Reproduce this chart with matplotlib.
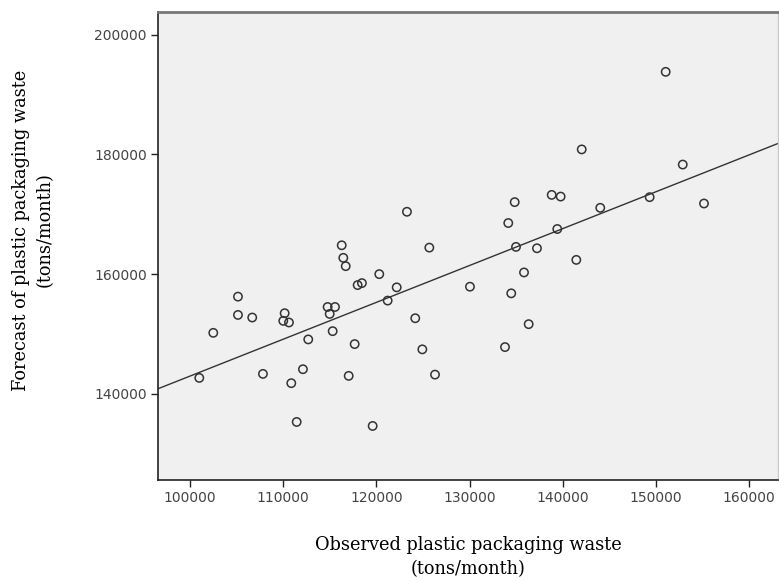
import numpy as np
import matplotlib
matplotlib.use("Agg")
import matplotlib.pyplot as plt

# Observed (x) and forecast (y) plastic packaging waste, tons/month
observed = [101000, 102500, 105150, 105150, 106680, 107830, 110160, 110010, 110620, 110870,
            111450, 112120, 112690, 114770, 115560, 114990, 115310, 116280, 116450, 116710,
            117030, 117670, 117990, 118450, 119600, 120310, 121210, 122180, 123280, 124170,
            124930, 125680, 126290, 130040, 133800, 134150, 134470, 134840, 134980, 135840,
            136340, 137230, 138810, 139770, 139410, 141450, 142030, 144020, 149320, 151040,
            152870, 155150]
forecast = [142660, 150190, 156240, 153180, 152750, 143330, 153470, 152190, 151920, 141780,
            135300, 144110, 149090, 154510, 154510, 153350, 150470, 164820, 162720, 161330,
            143000, 148310, 158170, 158500, 134630, 160000, 155580, 157790, 170420, 152630,
            147430, 164430, 143210, 157900, 147810, 168540, 156790, 172030, 164550, 160280,
            151640, 164320, 173240, 172960, 167540, 162380, 180840, 171080, 172860, 193800,
            178310, 171800]

x_ticks = [100000, 110000, 120000, 130000, 140000, 150000, 160000]
y_ticks = [140000, 160000, 180000, 200000]
x_label = "Observed plastic packaging waste\n(tons/month)"
y_label = "Forecast of plastic packaging waste\n(tons/month)"

W, H = 779, 581
fig = plt.figure(figsize=(W / 100, H / 100), dpi=100)
ax = fig.add_axes([158 / W, (H - 480) / H, (778 - 158) / W, (480 - 12) / H])
ax.set_facecolor("#f0f0f0")

ax.scatter(observed, forecast, s=36, facecolors="none", edgecolors="#333333",
           linewidths=1.1, zorder=3)

slope, intercept = np.polyfit(observed, forecast, 1)
ax.axline((0, intercept), slope=slope, color="#333333", linewidth=1.0, zorder=2)

ax.set_xlim(96570, 163090)
ax.set_ylim(125600, 203800)
ax.set_xticks(x_ticks)
ax.set_yticks(y_ticks)
ax.set_xticklabels([str(v) for v in x_ticks])
ax.set_yticklabels([str(v) for v in y_ticks])
ax.tick_params(axis="both", direction="out", length=5, width=1, color="#222222",
               labelsize=10, labelcolor="#444444", pad=3)

for side in ("left", "bottom"):
    ax.spines[side].set_color("#222222")
    ax.spines[side].set_linewidth(1.2)
ax.spines["top"].set_color("#777777")
ax.spines["top"].set_linewidth(2.0)
ax.spines["right"].set_color("#c8c8c8")
ax.spines["right"].set_linewidth(1.0)

fig.text(468 / W, 1 - 557 / H, x_label, ha="center", va="center",
         family="DejaVu Serif", fontsize=12.75, linespacing=1.38)
fig.text(33 / W, 1 - 230 / H, y_label, ha="center", va="center", rotation=90,
         family="DejaVu Serif", fontsize=12.75, linespacing=1.38)

fig.savefig("out.png", dpi=100, facecolor="white")
